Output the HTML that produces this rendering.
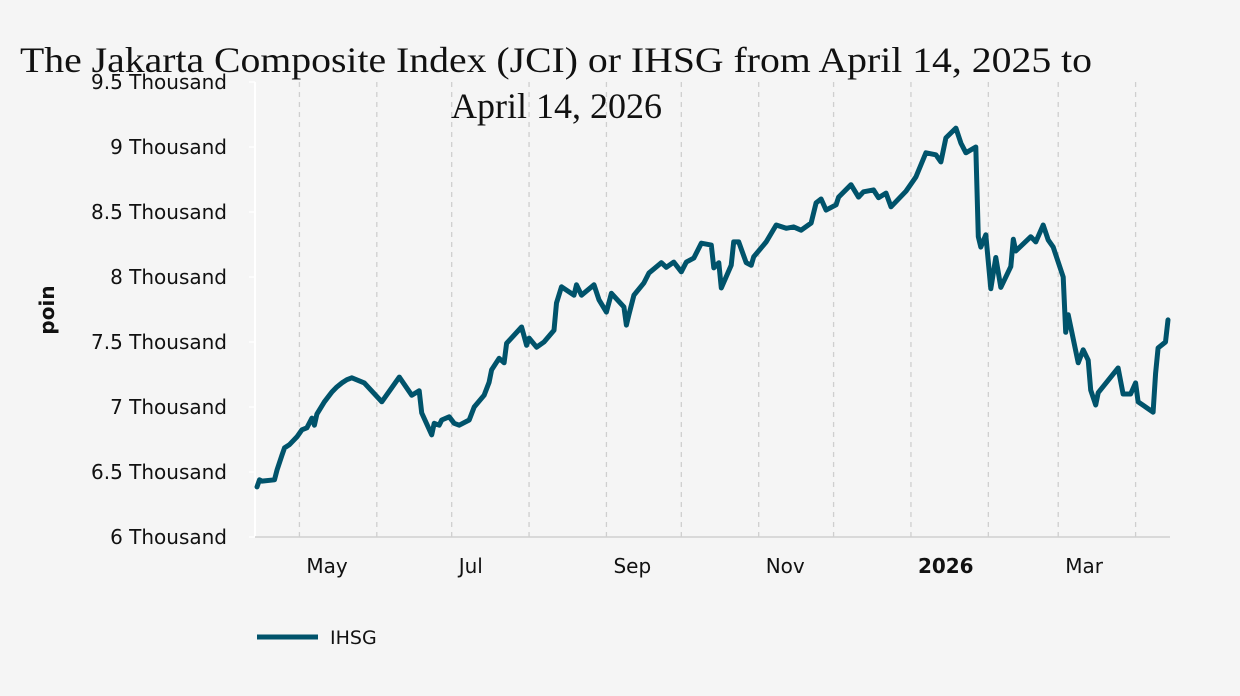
<!DOCTYPE html>
<html><head><meta charset="utf-8"><style>
html,body{margin:0;padding:0;background:#f5f5f5;}
svg{display:block;}
</style></head><body>
<svg id="chart" width="1240" height="696" xmlns="http://www.w3.org/2000/svg">
<rect width="1240" height="696" fill="#f5f5f5"/>
<g id="grid"></g>
<g id="axes"></g>
<g id="series"></g>
<text x="20" y="72" textLength="1072" lengthAdjust="spacingAndGlyphs" font-family="Liberation Serif, serif" font-size="36" fill="#111">The Jakarta Composite Index (JCI) or IHSG from April 14, 2025 to</text>
<text x="451" y="118" textLength="211" lengthAdjust="spacingAndGlyphs" font-family="Liberation Serif, serif" font-size="36" fill="#111">April 14, 2026</text>
<text transform="translate(54,310) rotate(-90)" text-anchor="middle" font-family="DejaVu Sans, sans-serif" font-size="20" font-weight="bold" fill="#111">poin</text>
<g>
<line x1="257" y1="637" x2="318" y2="637" stroke="#00536b" stroke-width="5"/>
<text x="330" y="644" font-family="DejaVu Sans, sans-serif" font-size="19" fill="#111">IHSG</text>
</g>
</svg>
<script>
const days = [0,1,2,7,8,10,11,13,16,18,20,22,23,24,27,30,32,34,36,38,43,50,57,62,65,66,70,71,73,74,77,79,81,85,87,91,93,94,97,99,100,106,108,109,112,115,119,120,122,127,128,130,135,137,140,142,147,148,149,151,155,157,162,164,167,170,172,175,178,182,183,185,186,190,191,193,196,198,199,204,208,212,215,218,222,224,226,228,232,233,238,241,243,247,249,252,254,260,264,268,272,274,276,280,282,284,288,289,290,292,294,296,298,302,303,304,310,312,315,317,319,323,324,325,329,331,333,334,336,337,345,347,350,352,353,359,360,361,364,365];
const values = [6385,6440,6430,6440,6515,6630,6685,6710,6770,6825,6840,6915,6860,6945,7040,7115,7155,7185,7210,7225,7185,7040,7230,7090,7125,6955,6785,6875,6860,6900,6925,6875,6860,6900,7000,7090,7190,7285,7375,7340,7490,7615,7475,7530,7460,7500,7590,7800,7925,7860,7940,7860,7940,7825,7730,7875,7770,7630,7710,7860,7955,8030,8110,8075,8115,8040,8115,8145,8260,8245,8070,8110,7915,8090,8270,8270,8110,8090,8155,8270,8400,8375,8385,8360,8415,8570,8600,8515,8555,8615,8710,8615,8655,8670,8610,8645,8540,8660,8770,8955,8940,8885,9070,9145,9030,8955,9000,8310,8230,8325,7910,8150,7920,8080,8290,8200,8310,8270,8400,8285,8230,8000,7575,7710,7340,7440,7360,7130,7015,7110,7300,7100,7100,7185,7040,6960,7260,7455,7500,7670];
const yTicks = [6000,6500,7000,7500,8000,8500,9000,9500];
const yTickLabels = ["6 Thousand","6.5 Thousand","7 Thousand","7.5 Thousand","8 Thousand","8.5 Thousand","9 Thousand","9.5 Thousand"];
const monthDays = [17,48,78,109,140,170,201,231,262,293,321,352];
const xLabels = ["May","","Jul","","Sep","","Nov","","2026","","Mar",""];

const NS="http://www.w3.org/2000/svg";
const X0=257, PXD=2.496, Y0=537, PXV=0.13;
function xs(d){return X0+d*PXD;}
function ys(v){return Y0-(v-6000)*PXV;}
function mk(tag,attrs,parent){const e=document.createElementNS(NS,tag);for(const k in attrs)e.setAttribute(k,attrs[k]);parent.appendChild(e);return e;}
const grid=document.getElementById('grid'), axes=document.getElementById('axes'), series=document.getElementById('series');

monthDays.forEach((d,i)=>{
  const gl=mk('line',{x1:xs(d),x2:xs(d),y1:82,y2:537,stroke:'#cfcfcf','stroke-width':1.3,'stroke-dasharray':'5,5'},grid);
  
  
  if(xLabels[i]){
    const t=mk('text',{x:xs(d)+7,y:573,'font-family':'DejaVu Sans, sans-serif','font-size':20,fill:'#111'},axes);
    if(xLabels[i]==='2026')t.setAttribute('font-weight','bold');
    t.textContent=xLabels[i];
    
    
  }
});
yTicks.forEach((v,i)=>{
  const t=mk('text',{x:227,y:ys(v)+7,'text-anchor':'end','font-family':'DejaVu Sans, sans-serif','font-size':20,fill:'#111'},axes);
  t.textContent=yTickLabels[i];
  
  
  const tk=mk('line',{x1:249,x2:255,y1:ys(v),y2:ys(v),stroke:'#fff','stroke-width':1.5},axes);
  
  
});
const ya=mk('line',{x1:255,x2:255,y1:82,y2:537,stroke:'#ffffff','stroke-width':2},axes);


const xa=mk('line',{x1:255,x2:1170,y1:537,y2:537,stroke:'#d0d0d0','stroke-width':1.5},axes);



const pts=days.map((d,i)=>xs(d).toFixed(1)+','+ys(values[i]).toFixed(1)).join(' ');
const pl=mk('polyline',{points:pts,fill:'none',stroke:'#00536b','stroke-width':5,'stroke-linejoin':'round','stroke-linecap':'round'},series);


</script>
</body></html>
